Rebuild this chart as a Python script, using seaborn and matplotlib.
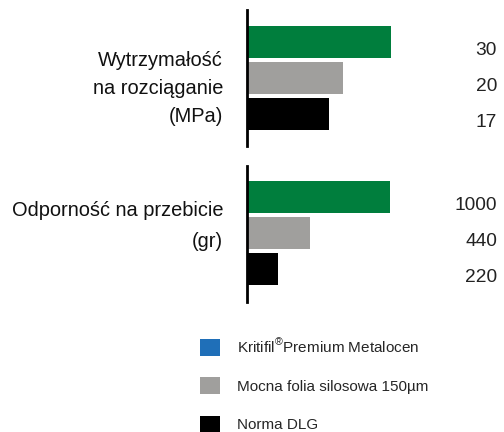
import seaborn as sns
import pandas as pd
import matplotlib.pyplot as plt
from matplotlib.patches import Patch
from matplotlib.transforms import blended_transform_factory

sns.set_theme(style="white")
plt.rcParams['font.family'] = ['Liberation Sans', 'DejaVu Sans']
plt.rcParams['mathtext.fontset'] = 'custom'
plt.rcParams['mathtext.rm'] = 'Liberation Sans'

products = ["Kritifil Premium Metalocen", "Mocna folia silosowa 150µm", "Norma DLG"]
legend_labels = ["Kritifil$^{\\mathrm{®}}$Premium Metalocen", "Mocna folia silosowa 150µm", "Norma DLG"]
tensile = [30, 20, 17]
puncture = [1000, 440, 220]
group_titles = ["Wytrzymałość\nna rozciąganie\n(MPa)", "Odporność na przebicie\n(gr)"]

bar_colors = ["#007E3D", "#A09F9D", "#000000"]
legend_colors = ["#1F6FB8", "#A09F9D", "#000000"]

fig = plt.figure(figsize=(5.04, 4.32), dpi=100)
ax1 = fig.add_axes([246.5/504, 1-146/432, 145/504, 136/432])
ax2 = fig.add_axes([246.5/504, 1-302/432, 144/504, 136/432])

groups = [
    (ax1, tensile, group_titles[0], (2.875, -0.89), 1-89/432, 1.6),
    (ax2, puncture, group_titles[1], (2.91, -0.875), 1-226/432, 1.75),
]

for ax, vals, title, ylim, ty, ls in groups:
    df = pd.DataFrame({"product": products, "value": vals})
    sns.barplot(data=df, x="value", y="product", hue="product", palette=bar_colors,
                orient="h", width=0.89, linewidth=0, saturation=1, legend=False, ax=ax)
    ax.set_xlim(0, max(vals))
    ax.set_ylim(*ylim)
    ax.set_xlabel("")
    ax.set_ylabel("")
    ax.set_xticks([])
    ax.set_yticks([])
    sns.despine(ax=ax, left=False, bottom=True)
    ax.spines['left'].set_color('black')
    ax.spines['left'].set_linewidth(2)
    ax.patch.set_alpha(0)
    tr = blended_transform_factory(fig.transFigure, ax.transData)
    for i, v in enumerate(vals):
        ax.text(497/504, i + 0.22, str(v), transform=tr, ha='right', va='center',
                fontsize=13.8, color='#222222', clip_on=False)
    fig.text(223/504, ty, title, ha='right', va='center', multialignment='right',
             fontsize=14.4, linespacing=ls, color='#111111')

handles = [Patch(facecolor=c, edgecolor='none') for c in legend_colors]
fig.legend(handles, legend_labels, loc='upper left', bbox_to_anchor=(200/504, 1-337/432),
           frameon=False, fontsize=11, handlelength=1.3, handleheight=1.3,
           handletextpad=1.15, labelspacing=1.42, borderpad=0, borderaxespad=0)

plt.savefig("out.png", dpi=100)
